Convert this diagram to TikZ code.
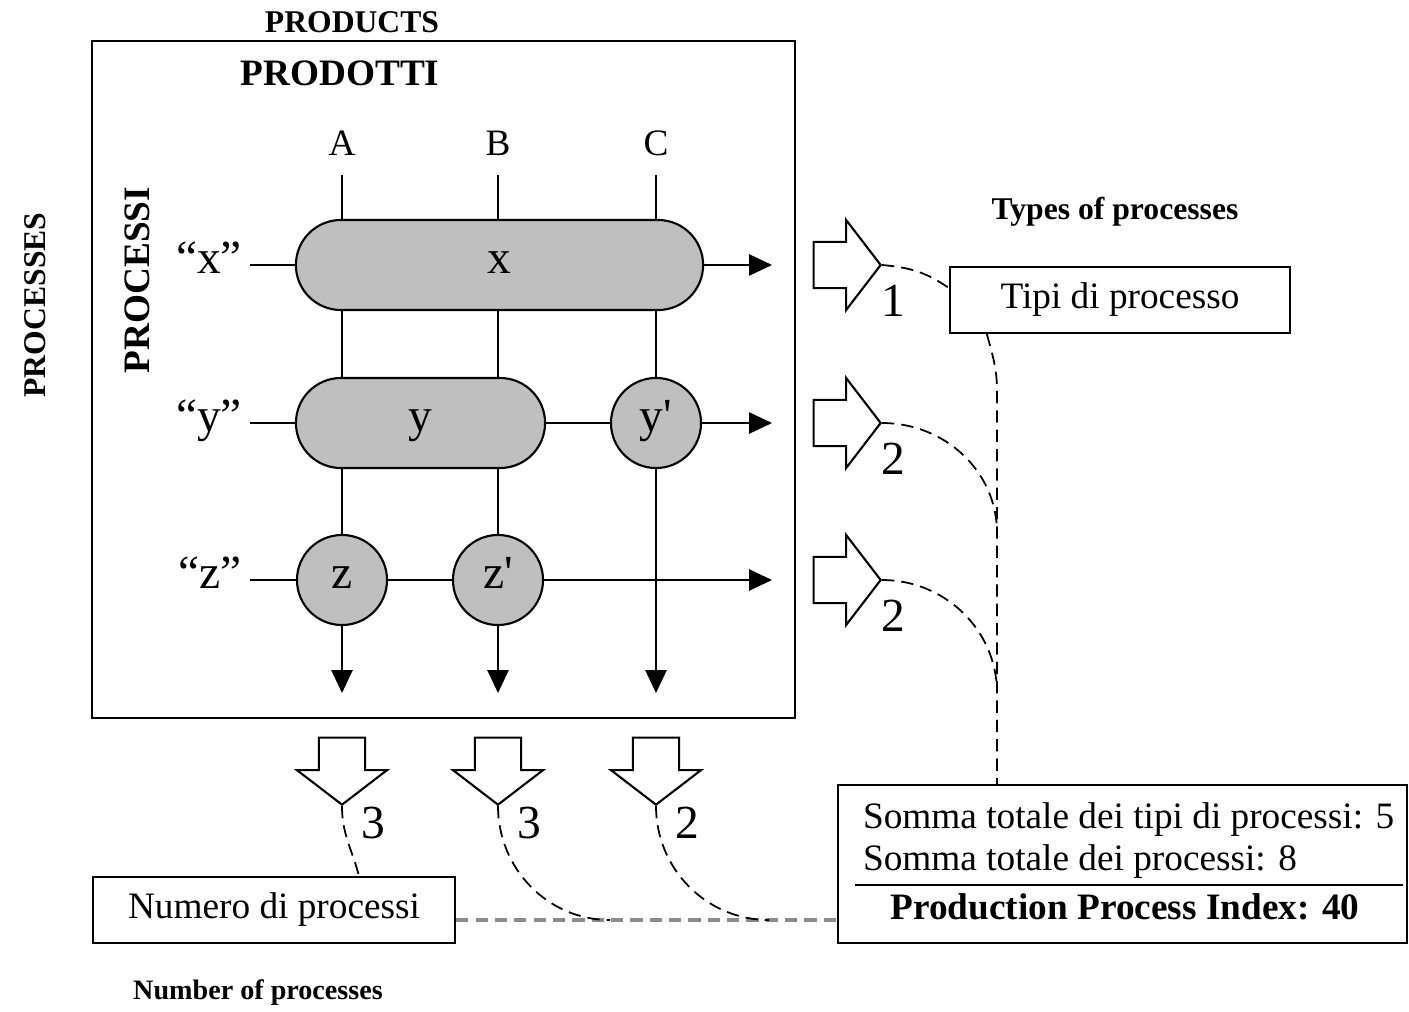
\documentclass[tikz,border=0pt]{standalone}
\usepackage{fontspec}
\setmainfont{Liberation Serif}
\usetikzlibrary{shapes.misc,shapes.arrows,arrows.meta,calc}

\begin{document}
\begin{tikzpicture}[x=0.01cm,y=0.01cm,line width=0.6pt,font=\fontsize{10.6}{13}\selectfont]
\tikzstyle{line}=[draw=black]
\tikzstyle{flow}=[line,-{Triangle[length=6.5pt,width=6pt]}]
\tikzstyle{link}=[draw=black,line width=0.5pt,dash pattern=on 3.5pt off 2pt]
\tikzstyle{hlink}=[draw=black!45,line width=0.9pt,dash pattern=on 3.5pt off 2pt]
\tikzstyle{letter}=[font=\fontsize{13.5}{15}\selectfont,text height=1ex,text depth=0pt]
\tikzstyle{process}=[letter,draw,fill=gray!50,inner sep=0pt]
\tikzstyle{pill}=[process,rounded rectangle,minimum height=0.9cm]
\tikzstyle{circ}=[process,circle,minimum size=0.9cm]
\tikzstyle{blockarrow}=[draw,single arrow,inner xsep=0pt,inner ysep=2.2mm,minimum height=6.7mm,
  single arrow head extend=2.2mm,single arrow tip angle=105]
\tikzstyle{downarrow}=[blockarrow,shape border rotate=270,inner xsep=2.2mm,inner ysep=0pt]
\tikzstyle{box}=[draw,rectangle,inner sep=0pt]
\tikzstyle{number}=[font=\fontsize{13.5}{15}\selectfont]
\tikzstyle{head}=[font=\fontsize{9}{11}\selectfont\bfseries]
\tikzstyle{bighead}=[font=\fontsize{10.6}{13}\selectfont\bfseries]

\useasboundingbox (0,0) rectangle (1409,1011);

% The frame and its titles
\node[box,minimum width=7.03cm,minimum height=6.77cm] (frame) at (443.5,631.5) {};
\node[head] at (352,989) {PRODUCTS};
\node[bighead] at (340,938) {PRODOTTI};
\node[head,rotate=90] at (35,706) {PROCESSES};
\node[bighead,rotate=90] at (137,731) {PROCESSI};

% Products: label, top and end of each column, and the arrow below
\foreach \name/\x/\n in {A/342/3,B/498/3,C/656/2} {
  \node (P-\name) at (\x,868) {\name};
  \coordinate (T-\name) at (\x,836);
  \coordinate (E-\name) at (\x,318);
  \node[downarrow,anchor=tip] (D-\name) at (\x,205) {};
  \node[number] at (\x+31,188) {\n};
}

% Processes: label, end of each row, and the arrow on the right
\foreach \name/\y/\n in {x/746/1,y/588/2,z/431/2} {
  \node[letter,anchor=east,inner sep=2pt] (L-\name) at (250,\y) {“\name”};
  \coordinate (E-\name) at (772,\y);
  \node[blockarrow,anchor=tip] (R-\name) at (882,\y) {};
  \node[number] at (893,\y-36) {\n};
}

% The processes on the grid
\node[pill,minimum width=4.07cm] (x) at (499.5,746) {x};
\node[pill,minimum width=2.49cm] (y) at (420.5,588) {y};
\node[circ] (y2) at (656,588) {y\textquotesingle};
\node[circ] (z) at (342,431) {z};
\node[circ] (z2) at (498,431) {z\textquotesingle};

% Product lines
\draw[line] (T-A) -- (T-A |- x.north);
\draw[line] (T-A |- x.south) -- (T-A |- y.north);
\draw[line] (T-A |- y.south) -- (z.north);
\draw[flow] (z.south) -- (E-A);
\draw[line] (T-B) -- (T-B |- x.north);
\draw[line] (T-B |- x.south) -- (T-B |- y.north);
\draw[line] (T-B |- y.south) -- (z2.north);
\draw[flow] (z2.south) -- (E-B);
\draw[line] (T-C) -- (T-C |- x.north);
\draw[line] (T-C |- x.south) -- (y2.north);
\draw[flow] (y2.south) -- (E-C);

% Process lines
\draw[line] (L-x.east) -- (x.west);
\draw[flow] (x.east) -- (E-x);
\draw[line] (L-y.east) -- (y.west);
\draw[line] (y.east) -- (y2.west);
\draw[flow] (y2.east) -- (E-y);
\draw[line] (L-z.east) -- (z.west);
\draw[line] (z.east) -- (z2.west);
\draw[flow] (z2.east) -- (E-z);

% Boxes
\node[head] at (1115,799) {Types of processes};
\node[box,minimum width=3.4cm,minimum height=0.66cm] (tipi) at (1120,711) {Tipi di processo};
\node[box,minimum width=3.62cm,minimum height=0.66cm] (numero) at (274,101) {Numero di processi};
\node[head,font=\fontsize{8}{10}\selectfont\bfseries] at (258,18) {Number of processes};
\node[box,minimum width=5.69cm,minimum height=1.58cm] (somma) at (1122.5,147) {};
\node[anchor=west,inner sep=0pt] (s1) at (862,191) {Somma totale dei tipi di processi: 5};
\node[anchor=west,inner sep=0pt] (s2) at (862,149) {Somma totale dei processi: 8};
\draw[line] (855,126) -- (1403,126);
\node[inner sep=0pt,font=\fontsize{10.6}{13}\selectfont\bfseries] (ppi) at (1125,104) {Production Process Index: 40};

% Types of processes, counted on the right
\draw[link] (R-x.tip) to[out=-5,in=145] (tipi.176);
\draw[link] ([xshift=3.8mm]tipi.south west) to[out=-75,in=90] (997,620) coordinate (V) -- (V |- somma.north);
\draw[link] (R-y.tip) to[out=0,in=90] (997,478);
\draw[link] (R-z.tip) to[out=0,in=90] (997,318);

% Number of processes, counted below
\coordinate (H) at ([yshift=-1mm]numero.east);
\draw[hlink] (H) -- (H -| somma.west);
\draw[link] (D-A.tip) to[out=-90,in=105] ([xshift=2.67cm]numero.north west);
\draw[link] (D-B.tip) to[out=-90,in=180] (610,91);
\draw[link] (D-C.tip) to[out=-90,in=180] (769,91);
\end{tikzpicture}
\end{document}
